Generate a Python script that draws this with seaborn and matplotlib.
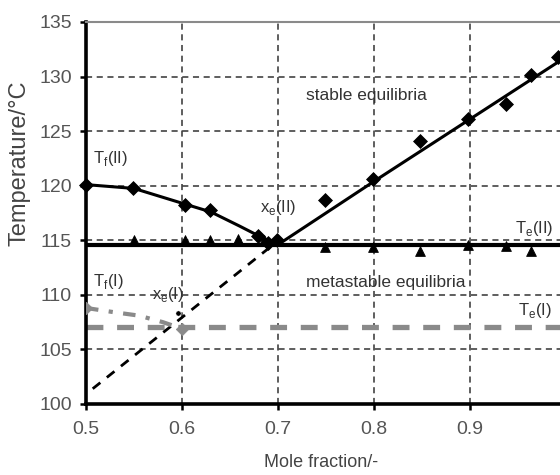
import matplotlib
matplotlib.use("Agg")
import matplotlib.pyplot as plt
import seaborn as sns

# stable liquidus of form II (diamonds) and its fitted curve
dia_x = [0.5, 0.549, 0.603, 0.629, 0.679, 0.690, 0.699,
         0.749, 0.799, 0.848, 0.898, 0.938, 0.964, 0.992]
dia_y = [120.1, 119.8, 118.2, 117.8, 115.4, 114.75, 115.0,
         118.7, 120.6, 124.1, 126.1, 127.5, 130.1, 131.8]
fit_left_x = [0.5, 0.55, 0.6, 0.63, 0.66, 0.68, 0.70]
fit_left_y = [120.1, 119.75, 118.4, 117.6, 116.3, 115.4, 114.6]
fit_right_x = [0.70, 0.8, 0.9, 1.0]
fit_right_y = [114.6, 120.4, 126.1, 131.8]

# eutectic temperatures (triangles) and eutectic lines
tri_x = [0.55, 0.603, 0.629, 0.658, 0.685, 0.749, 0.799, 0.848, 0.898, 0.938, 0.964]
tri_y = [115.0, 115.0, 115.0, 115.1, 115.0, 114.4, 114.4, 114.0, 114.6, 114.5, 114.0]
te2 = 114.6
te1 = 107.1

# metastable branches
meta2_x = [0.507, 0.695]
meta2_y = [101.4, 114.6]
meta1_x = [0.5, 0.53, 0.555, 0.58, 0.6]
meta1_y = [108.8, 108.4, 108.1, 107.5, 106.9]
dot_x = [0.596]
dot_y = [108.3]

sns.set_style("white")
plt.rcParams['font.family'] = ['Liberation Sans', 'DejaVu Sans']

fig = plt.figure(figsize=(5.6, 4.75), dpi=100)
ax = fig.add_axes([86 / 560, 71 / 475, 480 / 560, 382 / 475])

# eutectic lines
sns.lineplot(x=[0.5, 1.0], y=[te2, te2], color="black", lw=3, ax=ax)
ax.axhline(te1, color="#8a8a8a", lw=3.8, dashes=(3.2, 2.6), zorder=2)

# metastable lines
sns.lineplot(x=meta2_x, y=meta2_y, color="black", lw=2, ax=ax,
             linestyle=(0, (3.5, 3)))
sns.lineplot(x=meta1_x, y=meta1_y, color="#8a8a8a", lw=3, sort=False, ax=ax,
             linestyle=(0, (3, 2.5, 1, 2.5)))
sns.scatterplot(x=[meta1_x[0], meta1_x[-1]], y=[meta1_y[0], meta1_y[-1]],
                marker="D", s=40, color="#8a8a8a", edgecolor="#8a8a8a", ax=ax, zorder=4)
sns.scatterplot(x=dot_x, y=dot_y, marker="o", s=14, color="black", ax=ax)

# stable liquidus
sns.lineplot(x=fit_left_x, y=fit_left_y, color="black", lw=2.2, ax=ax)
sns.lineplot(x=fit_right_x, y=fit_right_y, color="black", lw=2.2, ax=ax)
sns.scatterplot(x=dia_x, y=dia_y, marker="D", s=50, color="black",
                edgecolor="black", ax=ax, zorder=5, clip_on=False)
sns.scatterplot(x=tri_x, y=tri_y, marker="^", s=50, color="black",
                edgecolor="black", ax=ax, zorder=5)

ax.set_xlim(0.5, 1.0)
ax.set_ylim(100, 135)
ax.set_xticks([0.5, 0.6, 0.7, 0.8, 0.9, 1.0])
ax.set_xticklabels(["0.5", "0.6", "0.7", "0.8", "0.9", "1"])
ax.set_yticks(range(100, 136, 5))
ax.grid(True, color="#333333", lw=1.1, linestyle=(0, (4, 3)))
ax.set_axisbelow(True)

for side in ["left", "bottom"]:
    ax.spines[side].set_color("black")
    ax.spines[side].set_linewidth(2.6)
ax.spines["top"].set_color("#8a8a8a")
ax.spines["top"].set_linewidth(1.5)
ax.spines["right"].set_visible(False)

ax.tick_params(axis="both", direction="out", length=4, width=1.8, color="black",
               labelsize=14, labelcolor="#555555", left=True, bottom=True)
ax.tick_params(axis="x", pad=8)
ax.tick_params(axis="y", pad=6)

ax.set_xlabel("Mole fraction/-", fontsize=13, color="#444444")
ax.set_ylabel("Temperature/°C", fontsize=17, color="#444444")
ax.xaxis.set_label_coords(0.49, -0.13)
ax.yaxis.set_label_coords(-0.115, 0.63)

txt = dict(fontsize=12.5, color="#333333", va="center")
ax.text(0.729, 128.3, "stable equilibria", ha="left", **txt)
ax.text(0.729, 111.1, "metastable equilibria", ha="left", **txt)
sub = dict(fontsize=12, color="#333333", va="center")
ax.text(0.507, 122.5, r"T$_\mathregular{f}$(II)", ha="left", **sub)
ax.text(0.507, 111.2, r"T$_\mathregular{f}$(I)", ha="left", **sub)
ax.text(0.681, 118.0, r"x$_\mathregular{e}$(II)", ha="left", **sub)
ax.text(0.569, 110.0, r"x$_\mathregular{e}$(I)", ha="left", **sub)
ax.text(0.947, 116.1, r"T$_\mathregular{e}$(II)", ha="left", **sub)
ax.text(0.950, 108.6, r"T$_\mathregular{e}$(I)", ha="left", **sub)

fig.savefig("out.png", dpi=100)
